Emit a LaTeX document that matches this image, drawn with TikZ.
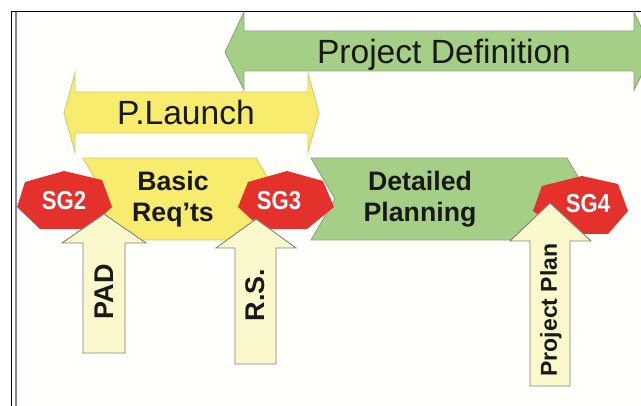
\documentclass[tikz,border=0pt]{standalone}
\usepackage{fontspec}
\setmainfont{Liberation Sans}
\pgfdeclarelayer{bg}
\pgfsetlayers{bg,main}
\definecolor{pgreen}{HTML}{A5CE87}
\definecolor{pyellow}{HTML}{F8EC6E}
\definecolor{pcream}{HTML}{FBF8CC}
\definecolor{pred}{HTML}{E5312B}
\definecolor{pedge}{HTML}{94A083}
\definecolor{pblue}{HTML}{8080A8}
\tikzset{
        greenshape/.style={draw=pedge, fill=pgreen, line width=0.9pt},
        yellowshape/.style={draw=pyellow!70!gray, fill=pyellow, line width=0.9pt},
        creamshape/.style={draw=gray, fill=pcream, line width=0.9pt},
        gateshape/.style={fill=pred},
        bigtext/.style={font=\fontsize{33.6}{33.6}\selectfont, text=black!90},
        boldtext/.style={font=\fontsize{26.7}{31.5}\selectfont\bfseries, text=black!90, align=center},
        gatetext/.style={font=\fontsize{26}{26}\selectfont\bfseries, text=white, xscale=0.85},
        uptext/.style={font=\fontsize{27}{27}\selectfont\bfseries, text=black!90, rotate=90},
}
\begin{document}
\begin{tikzpicture}[x=1pt, y=-1pt]
        \useasboundingbox (0,0) rectangle (641,406);
        \begin{pgfonlayer}{bg}
                \clip (0,0) rectangle (641,406);
                \fill [white!99!yellow] (16,12) rectangle (641,406);
                \draw [pblue, line width=1.4pt] (16,12) -- (16,406);
                \draw [black, line width=1pt] (11.5,406) -- (11.5,11.5) -- (641,11.5);
                \draw [greenshape] (225,52) -- (244,12) -- (244,31) -- (634,31) -- (634,12) -- (653,52) -- (634,90) -- (634,71) -- (244,71) -- (244,90) -- cycle;
                \draw [yellowshape] (64,113) -- (75,73) -- (75,92) -- (308,92) -- (308,73) -- (319,113) -- (308,152) -- (308,133) -- (75,133) -- (75,152) -- cycle;
                \draw [yellowshape] (83,158) -- (256,158) -- (280,199) -- (256,240) -- (83,240) -- (107,199) -- cycle;
                \draw [greenshape] (311,158) -- (567,158) -- (591,199) -- (567,240) -- (311,240) -- (335,199) -- cycle;
                \fill [gateshape] (64,171) -- (102,180) -- (112,207) -- (88,229) -- (40,229) -- (17,207) -- (25,182) -- cycle;
                \fill [gateshape] (287,171) -- (323,181) -- (334,207) -- (307,229) -- (262,229) -- (238,207) -- (248,182) -- cycle;
                \fill [gateshape] (582,176) -- (618,184) -- (628,211) -- (608,234) -- (565,234) -- (533,211) -- (542,186) -- cycle;
                \draw [creamshape] (104,214) -- (146,243) -- (125,243) -- (125,353) -- (83,353) -- (83,243) -- (62,243) -- cycle;
                \draw [creamshape] (256,219) -- (296,248) -- (276,248) -- (276,364) -- (235,364) -- (235,248) -- (216,248) -- cycle;
                \draw [creamshape] (550,203) -- (591,241) -- (570,241) -- (570,386) -- (530,386) -- (530,241) -- (510,241) -- cycle;
        \end{pgfonlayer}
        \node (pdef) [bigtext] at (444,55) {Project Definition};
        \node (launch) [bigtext] at (186,112) {P.Launch};
        \node (basic) [boldtext] at (173,199) {Basic\\Req’ts};
        \node (detail) [boldtext] at (420,199) {Detailed\\Planning};
        \node (sg2) [gatetext] at (64,201) {SG2};
        \node (sg3) [gatetext] at (279,201) {SG3};
        \node (sg4) [gatetext] at (588,204) {SG4};
        \node (pad) [uptext] at (104,292) {PAD};
        \node (rs) [uptext] at (255,295) {R.S.};
        \node (plan) [uptext, font=\fontsize{23}{23}\selectfont\bfseries] at (551,310) {Project Plan};
\end{tikzpicture}
\end{document}
